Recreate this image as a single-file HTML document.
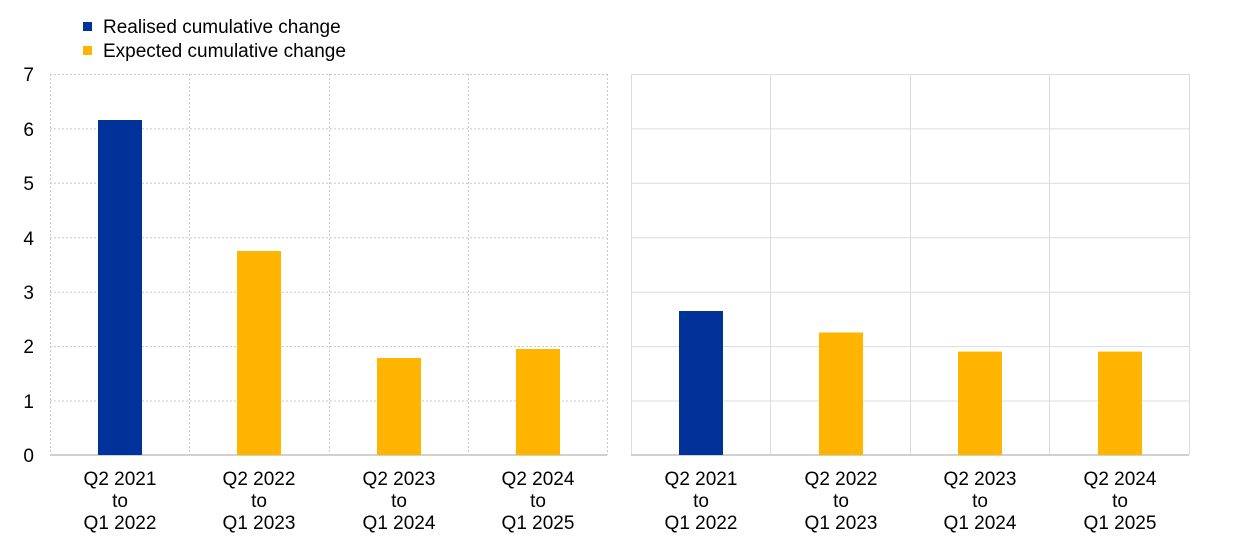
<!DOCTYPE html>
<html><head><meta charset="utf-8"><style>body{margin:0;background:#fff}</style></head><body>
<svg width="1240" height="538" xmlns="http://www.w3.org/2000/svg" font-family="Liberation Sans, sans-serif" font-size="19" fill="#000">
<rect width="1240" height="538" fill="#fff"/>
<rect x="83" y="22" width="9" height="9" fill="#003299"/>
<text x="103" y="33">Realised cumulative change</text>
<rect x="83" y="46" width="9" height="9" fill="#ffb400"/>
<text x="103" y="57">Expected cumulative change</text>
<g stroke="#c8c8c8" stroke-dasharray="2,2" stroke-width="1">
<line x1="50" y1="74.5" x2="607" y2="74.5"/><line x1="50" y1="128.9" x2="607" y2="128.9"/><line x1="50" y1="183.3" x2="607" y2="183.3"/><line x1="50" y1="237.8" x2="607" y2="237.8"/><line x1="50" y1="292.2" x2="607" y2="292.2"/><line x1="50" y1="346.6" x2="607" y2="346.6"/><line x1="50" y1="401" x2="607" y2="401"/>
<line x1="50.5" y1="74" x2="50.5" y2="455"/><line x1="189.5" y1="74" x2="189.5" y2="455"/><line x1="329.5" y1="74" x2="329.5" y2="455"/><line x1="468.5" y1="74" x2="468.5" y2="455"/><line x1="607.5" y1="74" x2="607.5" y2="455"/>
</g>
<g stroke="#dcdcdc" stroke-width="1">
<line x1="631" y1="74.5" x2="1189" y2="74.5"/><line x1="631" y1="128.9" x2="1189" y2="128.9"/><line x1="631" y1="183.3" x2="1189" y2="183.3"/><line x1="631" y1="237.8" x2="1189" y2="237.8"/><line x1="631" y1="292.2" x2="1189" y2="292.2"/><line x1="631" y1="346.6" x2="1189" y2="346.6"/><line x1="631" y1="401" x2="1189" y2="401"/>
<line x1="631.5" y1="74" x2="631.5" y2="455"/><line x1="770.5" y1="74" x2="770.5" y2="455"/><line x1="910.5" y1="74" x2="910.5" y2="455"/><line x1="1049.5" y1="74" x2="1049.5" y2="455"/><line x1="1189.5" y1="74" x2="1189.5" y2="455"/>
</g>
<g stroke="#d0d0d0" stroke-width="2"><line x1="50" y1="455" x2="607" y2="455"/><line x1="631" y1="455" x2="1189" y2="455"/></g>
<rect x="98" y="120" width="44" height="335" fill="#003299"/>
<rect x="237" y="251" width="44" height="204" fill="#ffb400"/>
<rect x="377" y="358" width="44" height="97" fill="#ffb400"/>
<rect x="516" y="349" width="44" height="106" fill="#ffb400"/>
<rect x="679" y="311" width="44" height="144" fill="#003299"/>
<rect x="819" y="332.5" width="44" height="122.5" fill="#ffb400"/>
<rect x="958" y="351.6" width="44" height="103.4" fill="#ffb400"/>
<rect x="1098" y="351.6" width="44" height="103.4" fill="#ffb400"/>
<g text-anchor="end"><text x="34" y="81">7</text><text x="34" y="136">6</text><text x="34" y="190">5</text><text x="34" y="245">4</text><text x="34" y="299">3</text><text x="34" y="353">2</text><text x="34" y="408">1</text><text x="34" y="462">0</text></g>
<g text-anchor="middle">
<text x="120" y="485">Q2 2021</text><text x="120" y="507">to</text><text x="120" y="529">Q1 2022</text>
<text x="259" y="485">Q2 2022</text><text x="259" y="507">to</text><text x="259" y="529">Q1 2023</text>
<text x="399" y="485">Q2 2023</text><text x="399" y="507">to</text><text x="399" y="529">Q1 2024</text>
<text x="538" y="485">Q2 2024</text><text x="538" y="507">to</text><text x="538" y="529">Q1 2025</text>
<text x="701" y="485">Q2 2021</text><text x="701" y="507">to</text><text x="701" y="529">Q1 2022</text>
<text x="841" y="485">Q2 2022</text><text x="841" y="507">to</text><text x="841" y="529">Q1 2023</text>
<text x="980" y="485">Q2 2023</text><text x="980" y="507">to</text><text x="980" y="529">Q1 2024</text>
<text x="1120" y="485">Q2 2024</text><text x="1120" y="507">to</text><text x="1120" y="529">Q1 2025</text>
</g>
</svg>
</body></html>
